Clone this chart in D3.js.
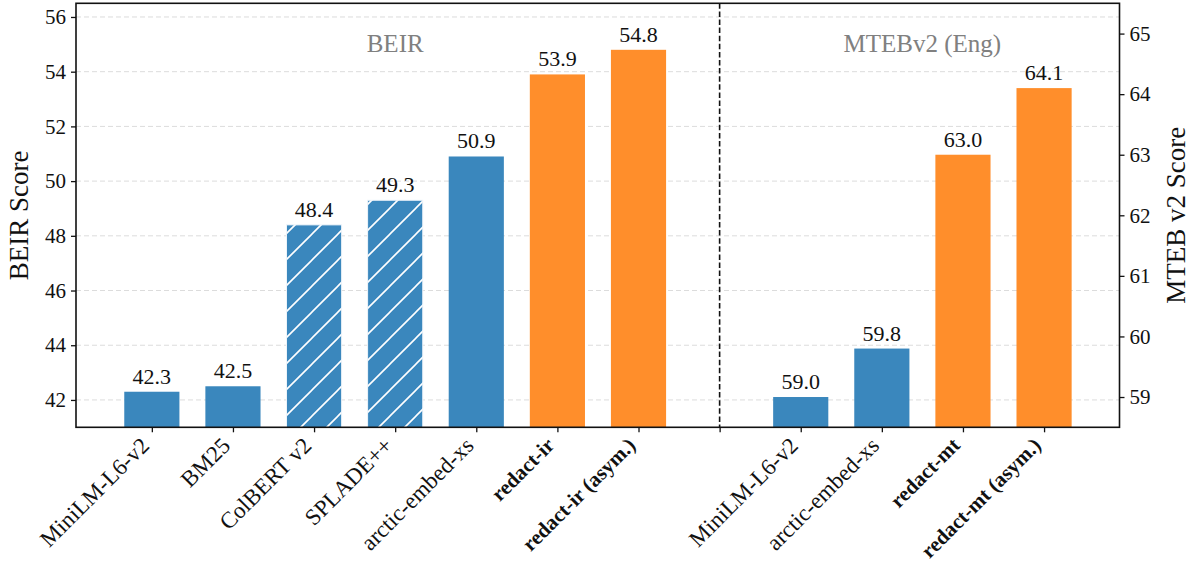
<!DOCTYPE html>
<html>
<head>
<meta charset="utf-8">
<script src="https://cdn.jsdelivr.net/npm/d3@7"></script>
<style>
  html, body { margin: 0; padding: 0; background: #fff; }
  svg text { font-family: "Liberation Serif", "DejaVu Serif", serif; }
</style>
</head>
<body>
<svg id="chart" width="1194" height="568"></svg>
<script>
// Model names along the x axis; the empty slot separates the two benchmarks.
const categories = [
  "MiniLM-L6-v2", "BM25", "ColBERT v2", "SPLADE++", "arctic-embed-xs",
  "redact-ir", "redact-ir (asym.)", "",
  "MiniLM-L6-v2", "arctic-embed-xs", "redact-mt", "redact-mt (asym.)"
];
// BEIR scores (left axis), first seven slots
const beirModels = ["MiniLM-L6-v2", "BM25", "ColBERT v2", "SPLADE++", "arctic-embed-xs", "redact-ir", "redact-ir (asym.)"];
const beirScores = [42.3, 42.5, 48.4, 49.3, 50.9, 53.9, 54.8];
const beirKind   = ["base", "base", "sparse", "sparse", "base", "ours", "ours"];
// MTEB v2 (English) scores (right axis), last four slots
const mtebModels = ["MiniLM-L6-v2", "arctic-embed-xs", "redact-mt", "redact-mt (asym.)"];
const mtebScores = [59.0, 59.8, 63.0, 64.1];
const mtebKind   = ["base", "base", "ours", "ours"];
// Tick values
const beirTicks = [42, 44, 46, 48, 50, 52, 54, 56];
const mtebTicks = [59, 60, 61, 62, 63, 64, 65];
const boldLabels = ["redact-ir", "redact-ir (asym.)", "redact-mt", "redact-mt (asym.)"];

const BLUE = "#3a87bd", ORANGE = "#ff8e2b";
const plot = { left: 76, right: 1119.5, top: 3.3, bottom: 427.3 };
const barWidth = 0.68;

const svg = d3.select("#chart");

const x = d3.scaleLinear().domain([-0.935, 11.93]).range([plot.left, plot.right]);
const yL = d3.scaleLinear().domain([41, 56.5]).range([plot.bottom, plot.top]);
const yR = d3.scaleLinear().domain([58.5, 65.5]).range([plot.bottom, plot.top]);

// Diagonal hatch for the sparse / late-interaction baselines
const defs = svg.append("defs");
const hp = defs.append("pattern").attr("id", "hatch")
  .attr("patternUnits", "userSpaceOnUse").attr("width", 26).attr("height", 26);
hp.append("rect").attr("width", 26).attr("height", 26).attr("fill", BLUE);
hp.append("path").attr("d", "M-6.5,6.5L6.5,-6.5M0,26L26,0M19.5,32.5L32.5,19.5")
  .attr("stroke", "#fff").attr("stroke-width", 1.6);

defs.append("clipPath").attr("id", "plotclip").append("rect")
  .attr("x", plot.left).attr("y", plot.top)
  .attr("width", plot.right - plot.left).attr("height", plot.bottom - plot.top);

// Horizontal grid from the left axis
svg.append("g").selectAll("line").data(beirTicks).join("line")
  .attr("x1", plot.left).attr("x2", plot.right)
  .attr("y1", d => yL(d)).attr("y2", d => yL(d))
  .attr("stroke", "#dcdcdc").attr("stroke-width", 1)
  .attr("stroke-dasharray", "5,3");

const fillFor = k => k === "ours" ? ORANGE : (k === "sparse" ? "url(#hatch)" : BLUE);

const beirData = beirScores.map((v, i) => ({ name: beirModels[i], v, kind: beirKind[i], pos: categories.indexOf(beirModels[i]) }));
const mtebData = mtebScores.map((v, i) => ({ name: mtebModels[i], v, kind: mtebKind[i], pos: categories.lastIndexOf(mtebModels[i]) }));

const bars = svg.append("g").attr("clip-path", "url(#plotclip)");
function drawBars(data, y) {
  bars.append("g").selectAll("rect").data(data).join("rect")
    .attr("x", d => x(d.pos - barWidth / 2))
    .attr("width", x(barWidth) - x(0))
    .attr("y", d => y(d.v))
    .attr("height", d => plot.bottom - y(d.v) + 2)
    .attr("fill", d => fillFor(d.kind))
    .attr("stroke", d => d.kind === "sparse" ? "#eef4fa" : "none")
    .attr("stroke-width", 1);
  svg.append("g").selectAll("text").data(data).join("text")
    .attr("x", d => x(d.pos))
    .attr("y", d => y(d.v) - 8)
    .attr("text-anchor", "middle")
    .attr("font-size", 22)
    .attr("fill", "#111")
    .text(d => d.v.toFixed(1));
}
drawBars(beirData, yL);
drawBars(mtebData, yR);

// Separator between the two benchmarks
svg.append("line")
  .attr("x1", x(7)).attr("x2", x(7))
  .attr("y1", plot.top).attr("y2", plot.bottom)
  .attr("stroke", "#111").attr("stroke-width", 1.6)
  .attr("stroke-dasharray", "5.5,2.6");

// Group titles
svg.append("text").attr("x", x(3.0)).attr("y", 52).attr("text-anchor", "middle")
  .attr("font-size", 25).attr("fill", "#808080").text("BEIR");
svg.append("text").attr("x", x(9.5)).attr("y", 52).attr("text-anchor", "middle")
  .attr("font-size", 25).attr("fill", "#808080").text("MTEBv2 (Eng)");

// Axes
const axL = d3.axisLeft(yL).tickValues(beirTicks).tickSize(5).tickPadding(5).tickFormat(d3.format("d"));
const axR = d3.axisRight(yR).tickValues(mtebTicks).tickSize(5).tickPadding(5).tickFormat(d3.format("d"));
const axB = d3.axisBottom(x).tickValues(d3.range(categories.length)).tickSize(5).tickFormat(() => "");

function styleAxis(g) {
  g.select(".domain").remove();
  g.selectAll(".tick line").attr("stroke", "#111").attr("stroke-width", 1.3);
  g.selectAll(".tick text").attr("font-size", 21).attr("fill", "#111")
    .style("font-family", '"Liberation Serif", "DejaVu Serif", serif');
}
svg.append("g").attr("transform", `translate(${plot.left},0)`).call(axL).call(styleAxis);
svg.append("g").attr("transform", `translate(${plot.right},0)`).call(axR).call(styleAxis);
svg.append("g").attr("transform", `translate(0,${plot.bottom})`).call(axB).call(styleAxis);

// Rotated category labels (our models in bold)
svg.append("g").selectAll("text").data(categories.map((c, i) => ({ c, i })).filter(d => d.c))
  .join("text")
  .attr("transform", d => `translate(${x(d.i) - 7},${plot.bottom + 14}) rotate(-45)`)
  .attr("text-anchor", "end")
  .attr("dy", "0.35em")
  .attr("font-size", d => boldLabels.includes(d.c) ? 21 : 23)
  .attr("font-weight", d => boldLabels.includes(d.c) ? "bold" : "normal")
  .attr("fill", "#111")
  .text(d => d.c);

// Frame
svg.append("rect")
  .attr("x", plot.left).attr("y", plot.top)
  .attr("width", plot.right - plot.left).attr("height", plot.bottom - plot.top)
  .attr("fill", "none").attr("stroke", "#111").attr("stroke-width", 1.6);

// Axis titles
svg.append("text")
  .attr("transform", `translate(28,${(plot.top + plot.bottom) / 2}) rotate(-90)`)
  .attr("text-anchor", "middle").attr("font-size", 27).attr("fill", "#111")
  .text("BEIR Score");
svg.append("text")
  .attr("transform", `translate(1185,${(plot.top + plot.bottom) / 2}) rotate(-90)`)
  .attr("text-anchor", "middle").attr("font-size", 27).attr("fill", "#111")
  .text("MTEB v2 Score");
</script>
</body>
</html>
